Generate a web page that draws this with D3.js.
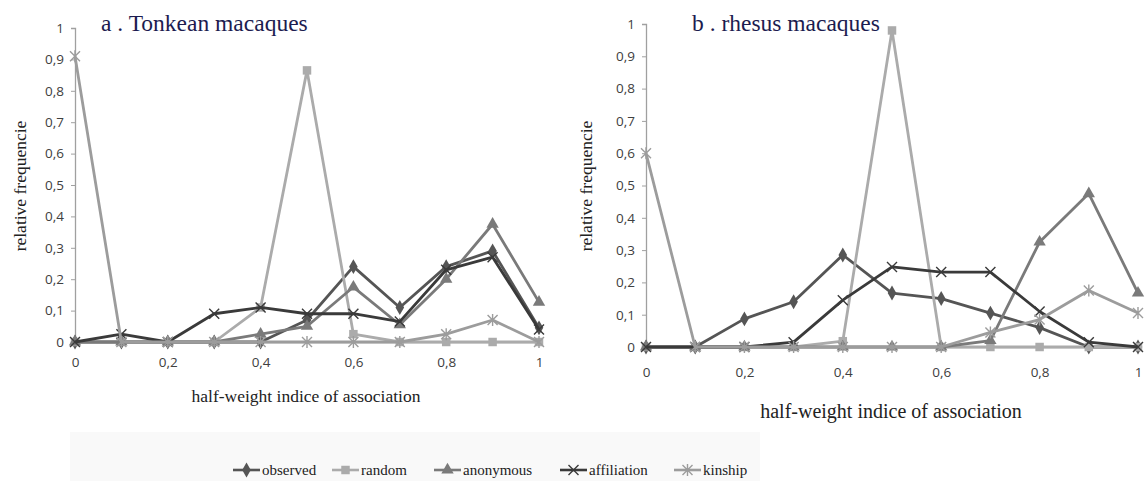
<!DOCTYPE html>
<html>
<head>
<meta charset="utf-8">
<script src="https://cdn.jsdelivr.net/npm/d3@7"></script>
<style>
  html, body { margin: 0; padding: 0; background: #fff; }
  svg { display: block; }
  .serif { font-family: "Liberation Serif", "Times New Roman", "DejaVu Serif", serif; }
  .tick text { font-family: "Open Sans", "Liberation Sans", sans-serif; }
</style>
</head>
<body>
<svg id="chart" width="1146" height="481"></svg>
<script>
// Half-weight index classes (x) shared by both panels
const hwi = [0, 0.1, 0.2, 0.3, 0.4, 0.5, 0.6, 0.7, 0.8, 0.9, 1];
const yTicks = [0, 0.1, 0.2, 0.3, 0.4, 0.5, 0.6, 0.7, 0.8, 0.9, 1];
const xTicks = [0, 0.2, 0.4, 0.6, 0.8, 1];
const seriesNames = ["observed", "random", "anonymous", "affiliation", "kinship"];

// Panel a: Tonkean macaques
const tonkeanObserved    = [0, 0, 0, 0, 0, 0.07, 0.24, 0.11, 0.24, 0.29, 0.045];
const tonkeanRandom      = [0, 0, 0, 0, 0.11, 0.865, 0.025, 0, 0, 0, 0];
const tonkeanAnonymous   = [0, 0, 0, 0, 0.025, 0.05, 0.175, 0.055, 0.2, 0.375, 0.127];
const tonkeanAffiliation = [0, 0.025, 0, 0.09, 0.11, 0.09, 0.09, 0.065, 0.23, 0.27, 0.04];
const tonkeanKinship     = [0.91, 0, 0, 0, 0, 0, 0, 0, 0.025, 0.07, 0];

// Panel b: rhesus macaques
const rhesusObserved    = [0, 0, 0.087, 0.14, 0.285, 0.167, 0.15, 0.105, 0.06, 0, 0];
const rhesusRandom      = [0, 0, 0, 0, 0.018, 0.98, 0, 0, 0, 0, 0];
const rhesusAnonymous   = [0, 0, 0, 0, 0, 0, 0, 0.02, 0.325, 0.475, 0.167];
const rhesusAffiliation = [0, 0, 0, 0.015, 0.145, 0.248, 0.232, 0.232, 0.11, 0.015, 0];
const rhesusKinship     = [0.6, 0, 0, 0, 0, 0, 0, 0.045, 0.085, 0.175, 0.105];

const styles = {
  observed:    { color: "#555555", marker: "diamond" },
  random:      { color: "#ababab", marker: "square" },
  anonymous:   { color: "#7a7a7a", marker: "triangle" },
  affiliation: { color: "#3a3a3a", marker: "cross" },
  kinship:     { color: "#9c9c9c", marker: "star" }
};

const svg = d3.select("#chart");

function markerPath(type) {
  if (type === "diamond") return d3.symbol(d3.symbolDiamond, 64)();
  if (type === "square") return d3.symbol(d3.symbolSquare, 72)();
  if (type === "triangle") return d3.symbol(d3.symbolTriangle, 66)();
  if (type === "cross") return "M-5,-5L5,5M-5,5L5,-5";
  return "M-5,-5L5,5M-5,5L5,-5M0,-6L0,6";
}

function drawMarker(g, type, color, x, y) {
  const p = g.append("path")
    .attr("transform", `translate(${x},${y})`)
    .attr("d", markerPath(type));
  if (type === "cross" || type === "star") {
    p.attr("fill", "none").attr("stroke", color).attr("stroke-width", 1.4);
  } else {
    p.attr("fill", color);
  }
}

const commaFmt = d => d3.format("")(d).replace(".", ",");

function panel(cfg) {
  const x = d3.scaleLinear().domain([0, 1]).range([cfg.x0, cfg.x1]);
  const y = d3.scaleLinear().domain([0, 1]).range([cfg.y0, cfg.y1]);
  const g = svg.append("g");

  // y axis
  const ya = g.append("g")
    .attr("transform", `translate(${cfg.x0},0)`)
    .call(d3.axisLeft(y).tickValues(yTicks).tickSize(4).tickPadding(7).tickFormat(commaFmt));
  ya.select(".domain").attr("stroke", "#a0a0a0").attr("stroke-width", 1.3);
  ya.selectAll(".tick line").attr("stroke", "#a0a0a0");
  ya.selectAll("text").attr("fill", "#404040").attr("font-size", 13.5);

  // x axis (baseline at zero, labels only)
  const xa = g.append("g")
    .attr("transform", `translate(0,${cfg.y0})`)
    .call(d3.axisBottom(x).tickValues(xTicks).tickSize(0).tickPadding(cfg.xPad).tickFormat(commaFmt));
  xa.select(".domain").attr("stroke", "#a0a0a0").attr("stroke-width", 1.3);
  xa.selectAll("text").attr("fill", "#404040").attr("font-size", 13.5);

  const line = d3.line().x((d, i) => x(hwi[i])).y(d => y(d));

  seriesNames.forEach((name, si) => {
    const vals = cfg.data[si];
    const st = styles[name];
    g.append("path").datum(vals)
      .attr("fill", "none")
      .attr("stroke", st.color)
      .attr("stroke-width", 2.8)
      .attr("stroke-linejoin", "round")
      .attr("d", line);
    vals.forEach((v, i) => drawMarker(g, st.marker, st.color, x(hwi[i]), y(v)));
  });

  // titles and axis labels
  g.append("text").attr("class", "serif")
    .attr("x", cfg.titleX).attr("y", cfg.titleY)
    .attr("fill", "#1c1c50").attr("font-size", 23.5)
    .text(cfg.title);
  g.append("text").attr("class", "serif")
    .attr("transform", `translate(${cfg.yLabelX},186) rotate(-90)`)
    .attr("text-anchor", "middle")
    .attr("fill", "#222").attr("font-size", 17.5)
    .text("relative frequencie");
  g.append("text").attr("class", "serif")
    .attr("x", cfg.xLabelX).attr("y", cfg.xLabelY)
    .attr("text-anchor", "middle")
    .attr("fill", "#222").attr("font-size", cfg.xLabelSize)
    .text("half-weight indice of association");
}

panel({
  x0: 75, x1: 539, y0: 342, y1: 28, xPad: 15,
  data: [tonkeanObserved, tonkeanRandom, tonkeanAnonymous, tonkeanAffiliation, tonkeanKinship],
  title: "a . Tonkean macaques", titleX: 101, titleY: 31,
  yLabelX: 26, xLabelX: 306, xLabelY: 402, xLabelSize: 17.5
});

panel({
  x0: 646, x1: 1138, y0: 347, y1: 24, xPad: 20,
  data: [rhesusObserved, rhesusRandom, rhesusAnonymous, rhesusAffiliation, rhesusKinship],
  title: "b . rhesus macaques", titleX: 692, titleY: 31,
  yLabelX: 592, xLabelX: 891, xLabelY: 418, xLabelSize: 20
});

// legend strip
svg.insert("rect", ":first-child").attr("x", 70).attr("y", 432).attr("width", 690).attr("height", 49)
  .attr("fill", "#f9f9f9");
const legendX = [233, 332, 434, 560, 674];
const legend = svg.append("g");
seriesNames.forEach((name, i) => {
  const st = styles[name];
  const lx = legendX[i];
  const ly = 470;
  legend.append("line").attr("x1", lx).attr("x2", lx + 27).attr("y1", ly).attr("y2", ly)
    .attr("stroke", st.color).attr("stroke-width", 2.6);
  drawMarker(legend, st.marker, st.color, lx + 13.5, ly);
  legend.append("text").attr("class", "serif")
    .attr("x", lx + 29).attr("y", ly + 5)
    .attr("fill", "#222").attr("font-size", 15)
    .text(name);
});
</script>
</body>
</html>
